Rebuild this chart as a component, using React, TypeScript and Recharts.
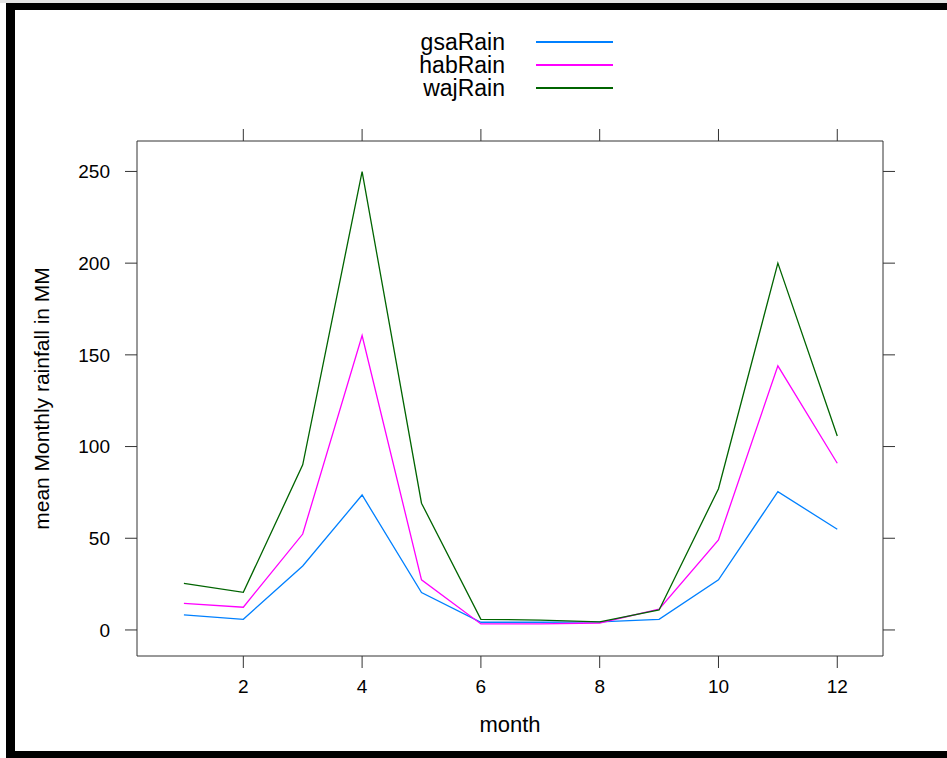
import { LineChart, Line, XAxis, YAxis, Legend } from "recharts";

const months = [1, 2, 3, 4, 5, 6, 7, 8, 9, 10, 11, 12];
const gsaRain = [8.2, 5.8, 34.9, 73.6, 20.4, 4.2, 4.2, 4.4, 5.8, 27.3, 75.4, 54.9];
const habRain = [14.5, 12.4, 52.3, 160.5, 27.3, 3.3, 3.3, 3.8, 11.3, 49.1, 144, 90.9];
const wajRain = [25.4, 20.5, 90, 249.9, 69.1, 5.8, 5.4, 4.4, 10.9, 77, 200, 105.8];

const monthTicks = [2, 4, 6, 8, 10, 12];
const rainTicks = [0, 50, 100, 150, 200, 250];

const seriesNames = ["gsaRain", "habRain", "wajRain"];
const seriesColors = ["#0080ff", "#ff00ff", "#006400"];

const chartData = months.map((month, i) => ({
  month,
  gsaRain: gsaRain[i],
  habRain: habRain[i],
  wajRain: wajRain[i],
}));

const FONT = "'Liberation Sans', Arial, sans-serif";
const AXIS = "#333";

// lattice-style key: names right-aligned, line sample to the right
const LatticeKey = (props: any) => {
  const payload = props.payload || [];
  return (
    <div style={{ position: "relative", width: 947, height: 0, overflow: "visible", fontFamily: FONT }}>
      {payload.map((entry: any, i: number) => {
        const cy = 42 + i * 23;
        const idx = seriesNames.indexOf(entry.value);
        return (
          <div key={entry.value}>
            <span
              style={{
                position: "absolute",
                right: 947 - 505,
                top: cy - 11,
                fontSize: 23,
                lineHeight: "22px",
                color: "#000",
                whiteSpace: "nowrap",
              }}
            >
              {entry.value}
            </span>
            <div
              style={{
                position: "absolute",
                left: 536,
                width: 77,
                top: cy - 1,
                height: 2,
                background: seriesColors[idx >= 0 ? idx : i],
              }}
            />
          </div>
        );
      })}
    </div>
  );
};

const App = () => {
  return (
    <div style={{ position: "absolute", left: 0, top: 0, width: 947, height: 758, background: "#fff", overflow: "hidden" }}>
      <div style={{ position: "absolute", left: 0, top: 0, width: 947, height: 3, background: "#e4e4e4" }} />
      <div style={{ position: "absolute", left: 6, top: 3, width: 941, height: 7, background: "#000" }} />
      <div style={{ position: "absolute", left: 6, top: 3, width: 9, height: 755, background: "#000" }} />
      <div style={{ position: "absolute", left: 6, top: 751, width: 941, height: 7, background: "#000" }} />
      <div style={{ position: "absolute", left: 0, top: 0 }}>
        <LineChart
          width={947}
          height={758}
          data={chartData}
          margin={{ top: 129, right: 52, bottom: 22, left: 37 }}
          style={{ fontFamily: FONT }}
        >
          <XAxis
            dataKey="month"
            type="number"
            domain={[0.21, 12.77]}
            ticks={monthTicks}
            allowDataOverflow
            height={80}
            tickSize={12}
            tickMargin={12}
            stroke={AXIS}
            tick={{ fill: "#000", fontSize: 19 }}
            label={{ value: "month", position: "insideBottom", offset: 4, fill: "#000", fontSize: 22 }}
          />
          <XAxis
            xAxisId="top"
            orientation="top"
            dataKey="month"
            type="number"
            domain={[0.21, 12.77]}
            ticks={monthTicks}
            allowDataOverflow
            height={12}
            tickSize={12}
            stroke={AXIS}
            tickFormatter={() => ""}
          />
          <YAxis
            type="number"
            domain={[-14.2, 266.6]}
            ticks={rainTicks}
            allowDataOverflow
            width={100}
            tickSize={12}
            tickMargin={15}
            stroke={AXIS}
            tick={{ fill: "#000", fontSize: 19 }}
            label={{
              value: "mean Monthly rainfall in MM",
              angle: -90,
              position: "insideLeft",
              offset: 5,
              fill: "#000",
              fontSize: 21,
              style: { textAnchor: "middle" },
            }}
          />
          <YAxis
            yAxisId="right"
            orientation="right"
            type="number"
            domain={[-14.2, 266.6]}
            ticks={rainTicks}
            allowDataOverflow
            width={12}
            tickSize={12}
            stroke={AXIS}
            tickFormatter={() => ""}
          />
          <Legend
            content={<LatticeKey />}
            verticalAlign="top"
            wrapperStyle={{ position: "absolute", left: 0, top: 0, width: 947, height: 0 }}
          />
          {seriesNames.map((name, i) => (
            <Line
              key={name}
              type="linear"
              dataKey={name}
              name={name}
              stroke={seriesColors[i]}
              strokeWidth={1.3}
              dot={false}
              activeDot={false}
              isAnimationActive={false}
            />
          ))}
        </LineChart>
      </div>
    </div>
  );
};

export default App;
